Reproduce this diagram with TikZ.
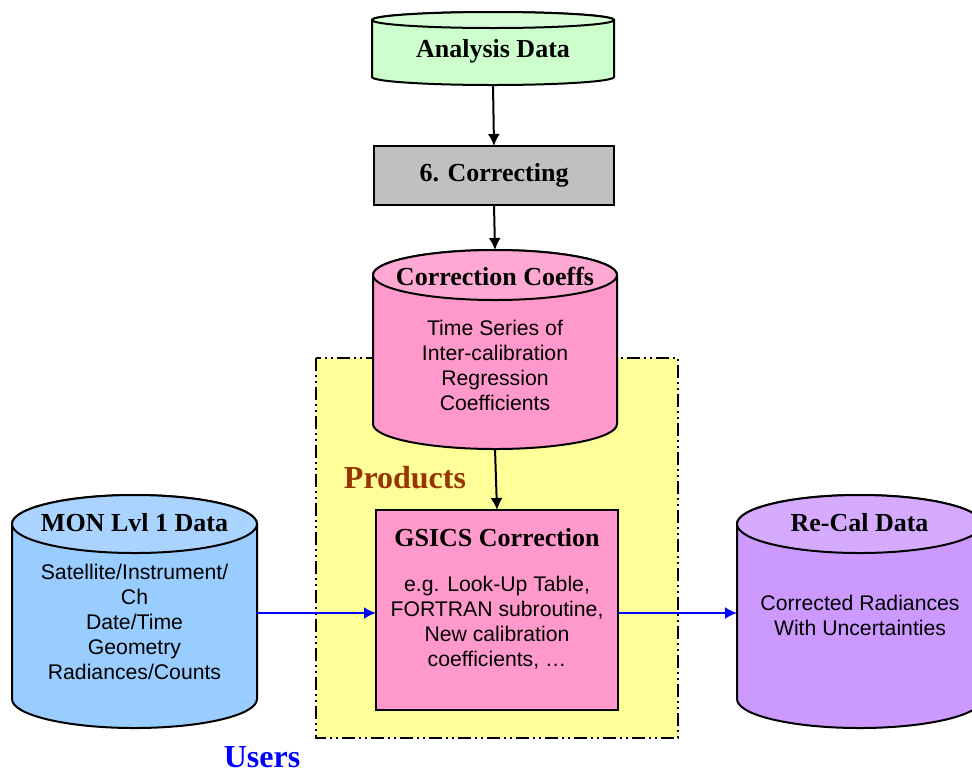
\documentclass[tikz,border=0pt]{standalone}
\usepackage{fontspec}
\setmainfont{Liberation Serif}
\setsansfont{Liberation Sans}
\usetikzlibrary{%
  arrows.meta,%
  positioning,%
  calc% wg. cylinder outlines
}
\definecolor{anagreen}{HTML}{CCFFCC}
\definecolor{anagreentop}{HTML}{D6FFD6}
\definecolor{corrgray}{HTML}{C0C0C0}
\definecolor{coefpink}{HTML}{FF99CC}
\definecolor{coefpinktop}{HTML}{FFA8D4}
\definecolor{monblue}{HTML}{99CCFF}
\definecolor{monbluetop}{HTML}{AAD4FF}
\definecolor{recalpurple}{HTML}{CC99FF}
\definecolor{recalpurpletop}{HTML}{D6AAFF}
\definecolor{prodyellow}{HTML}{FFFF99}
\definecolor{prodbrown}{HTML}{993300}

\tikzset{
  cylframe/.style={rectangle, inner sep=0pt, outer sep=0pt},
  procbox/.style={rectangle, draw, line width=1pt, inner sep=0pt, outer sep=0pt},
  ttl/.style={font=\bfseries\fontsize{13}{15}\selectfont},
  txt/.style={font=\sffamily\fontsize{10.6}{12.5}\selectfont, align=center},
  biglbl/.style={font=\bfseries\fontsize{16}{18}\selectfont},
}

% name, cx, cy, half width, half height, end radius, body colour, top colour
\newcommand{\dbcyl}[8]{%
  \node[cylframe, minimum width=2*#4, minimum height=2*#5] (#1) at (#2,#3) {};
  \draw[fill=#7] ($(#1.north west)+(0pt,-#6)$) -- ($(#1.south west)+(0pt,#6)$)
    arc[start angle=180, end angle=360, x radius=#4, y radius=#6]
    -- ($(#1.north east)+(0pt,-#6)$)
    arc[start angle=0, end angle=180, x radius=#4, y radius=#6] -- cycle;
  \draw[fill=#8] ($(#1.north)+(0pt,-#6)$) ellipse[x radius=#4, y radius=#6];
}

\begin{document}
\begin{tikzpicture}[
  x=0.5pt, y=-0.5pt,
  >={Latex[length=6pt,width=6pt]},
  line width=1pt,
]
\useasboundingbox (0,0) rectangle (972,772);

% products area
\draw[fill=prodyellow, dash pattern=on 6.5pt off 2pt on 1pt off 2pt on 1pt off 2pt]
  (316,358) rectangle (678,738);
\node[biglbl, text=prodbrown] (prodlbl) at (405,478) {Products};
\node[biglbl, text=blue] (userlbl) at (262,757) {Users};

% top chain
\dbcyl{ana}{493}{48.5}{60.5pt}{18.25pt}{4pt}{anagreen}{anagreentop}
\node[ttl] (anatxt) at (493,51) {Analysis Data};

\node[procbox, fill=corrgray, minimum width=120pt, minimum height=29.5pt] (corr) at (494,175.5) {};
\node[ttl] (corrtxt) at (corr) {6. Correcting};

\dbcyl{coef}{495}{349.5}{61pt}{49.75pt}{12.5pt}{coefpink}{coefpinktop}
\node[ttl] (coeftxt) at ($(coef.north)+(0,26)$) {Correction Coeffs};
\node[txt] (coefbody) at (495,365) {Time Series of\\Inter-calibration\\Regression\\Coefficients};

\node[procbox, fill=coefpink, minimum width=121pt, minimum height=100pt] (gsics) at (497,610) {};
\node[ttl] (gsicstxt) at (497,538) {GSICS Correction};
\node[txt] (gsicsbody) at (497,623) {e.g. Look-Up Table,\\FORTRAN subroutine,\\New calibration\\coefficients, \ldots};

% side cylinders
\dbcyl{mon}{134.5}{611.5}{61.25pt}{58.25pt}{14.5pt}{monblue}{monbluetop}
\node[ttl] (montxt) at ($(mon.north)+(0,28)$) {MON Lvl 1 Data};
\node[txt] (monbody) at (134.5,622) {Satellite/Instrument/\\Ch\\Date/Time\\Geometry\\Radiances/Counts};

\dbcyl{recal}{859.5}{611.5}{61.25pt}{58.25pt}{14.5pt}{recalpurple}{recalpurpletop}
\node[ttl] (recaltxt) at ($(recal.north)+(0,28)$) {Re-Cal Data};
\node[txt] (recalbody) at (860,615) {Corrected Radiances\\With Uncertainties};

% connectors
\draw[->] (ana.south) -- (corr.north);
\draw[->] (corr.south) -- (coef.north);
\draw[->] (coef.south) -- (gsics.north);
\draw[->, blue] (mon.east |- 0,613) -- (gsics.west |- 0,613);
\draw[->, blue] (gsics.east |- 0,613) -- (recal.west |- 0,613);

\end{tikzpicture}
\end{document}
